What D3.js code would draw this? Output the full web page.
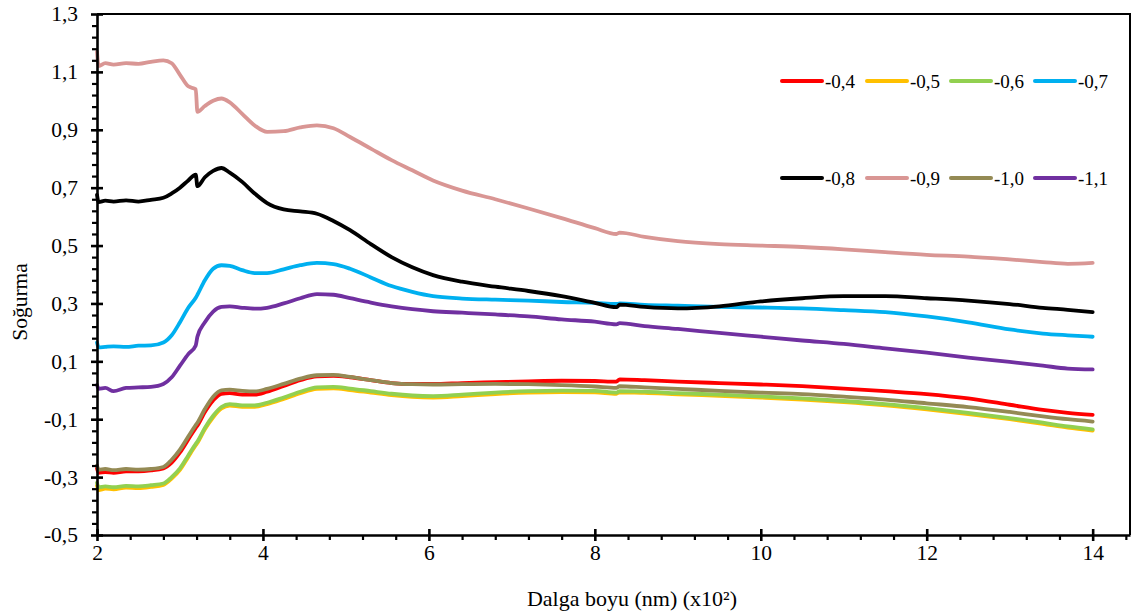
<!DOCTYPE html>
<html>
<head>
<meta charset="utf-8">
<script src="https://cdn.jsdelivr.net/npm/d3@7"></script>
<style>
  html, body { margin: 0; padding: 0; background: #fff; }
</style>
</head>
<body>
<svg id="chart" width="1136" height="616"></svg>
<script>
// Wavelength grid (nm x 10^2)
const wavelength = [2.00, 2.02, 2.10, 2.20, 2.35, 2.50, 2.65, 2.80, 2.90, 3.00, 3.10, 3.19, 3.21, 3.30, 3.40, 3.50, 3.60, 3.75, 3.90, 4.05, 4.25, 4.45, 4.65, 4.85, 5.05, 5.30, 5.55, 5.80, 6.05, 6.40, 6.80, 7.20, 7.60, 8.00, 8.26, 8.30, 8.60, 9.00, 9.50, 10.0, 10.5, 11.0, 11.5, 12.0, 12.5, 13.0, 13.4, 13.7, 14.0];

// Absorbance for each potential
const abs_m04 = [-0.270, -0.285, -0.283, -0.285, -0.280, -0.280, -0.277, -0.270, -0.250, -0.215, -0.170, -0.130, -0.122, -0.075, -0.035, -0.012, -0.010, -0.015, -0.015, -0.005, 0.015, 0.035, 0.048, 0.050, 0.045, 0.035, 0.025, 0.022, 0.022, 0.025, 0.028, 0.031, 0.033, 0.032, 0.030, 0.038, 0.035, 0.030, 0.025, 0.020, 0.014, 0.006, -0.003, -0.013, -0.028, -0.050, -0.068, -0.078, -0.085];
const abs_m05 = [-0.330, -0.345, -0.340, -0.342, -0.336, -0.338, -0.334, -0.327, -0.305, -0.275, -0.230, -0.190, -0.182, -0.135, -0.093, -0.063, -0.053, -0.057, -0.057, -0.048, -0.030, -0.010, 0.005, 0.007, 0.001, -0.008, -0.017, -0.023, -0.025, -0.020, -0.013, -0.008, -0.006, -0.007, -0.012, -0.007, -0.009, -0.014, -0.019, -0.025, -0.032, -0.041, -0.052, -0.066, -0.082, -0.100, -0.116, -0.129, -0.139];
const abs_m06 = [-0.320, -0.335, -0.332, -0.335, -0.330, -0.332, -0.328, -0.322, -0.300, -0.270, -0.225, -0.185, -0.177, -0.130, -0.088, -0.058, -0.048, -0.052, -0.052, -0.043, -0.025, -0.005, 0.010, 0.012, 0.006, -0.003, -0.012, -0.018, -0.020, -0.015, -0.008, -0.003, -0.001, -0.002, -0.008, -0.003, -0.005, -0.010, -0.015, -0.021, -0.028, -0.037, -0.048, -0.062, -0.078, -0.096, -0.112, -0.125, -0.135];
const abs_m07 = [0.165, 0.148, 0.150, 0.152, 0.150, 0.154, 0.155, 0.165, 0.190, 0.235, 0.285, 0.320, 0.330, 0.380, 0.420, 0.432, 0.430, 0.415, 0.405, 0.405, 0.418, 0.432, 0.440, 0.436, 0.420, 0.390, 0.360, 0.340, 0.325, 0.317, 0.313, 0.310, 0.305, 0.302, 0.298, 0.300, 0.295, 0.292, 0.288, 0.286, 0.283, 0.277, 0.270, 0.255, 0.235, 0.210, 0.196, 0.190, 0.185];
const abs_m08 = [0.675, 0.650, 0.655, 0.652, 0.656, 0.652, 0.658, 0.665, 0.680, 0.700, 0.725, 0.745, 0.705, 0.736, 0.758, 0.768, 0.752, 0.720, 0.680, 0.647, 0.625, 0.618, 0.610, 0.585, 0.553, 0.505, 0.460, 0.425, 0.398, 0.375, 0.358, 0.343, 0.325, 0.302, 0.287, 0.296, 0.288, 0.283, 0.290, 0.307, 0.318, 0.325, 0.325, 0.318, 0.310, 0.298, 0.285, 0.278, 0.270];
const abs_m09 = [1.170, 1.120, 1.130, 1.125, 1.130, 1.128, 1.135, 1.140, 1.130, 1.090, 1.050, 1.040, 0.962, 0.982, 1.000, 1.008, 0.995, 0.955, 0.915, 0.893, 0.895, 0.908, 0.915, 0.905, 0.875, 0.835, 0.795, 0.760, 0.725, 0.690, 0.660, 0.628, 0.595, 0.560, 0.540, 0.545, 0.530, 0.515, 0.505, 0.500, 0.495, 0.487, 0.477, 0.468, 0.462, 0.452, 0.443, 0.437, 0.440];
const abs_m10 = [-0.260, -0.275, -0.272, -0.276, -0.272, -0.274, -0.272, -0.265, -0.240, -0.205, -0.160, -0.120, -0.112, -0.065, -0.022, 0.000, 0.002, -0.002, -0.004, 0.005, 0.022, 0.040, 0.052, 0.053, 0.046, 0.035, 0.025, 0.021, 0.020, 0.021, 0.022, 0.021, 0.018, 0.013, 0.008, 0.014, 0.010, 0.005, -0.002, -0.008, -0.013, -0.022, -0.032, -0.045, -0.058, -0.075, -0.090, -0.100, -0.108];
const abs_m11 = [0.018, 0.005, 0.008, -0.003, 0.008, 0.010, 0.012, 0.022, 0.045, 0.085, 0.125, 0.155, 0.185, 0.235, 0.272, 0.288, 0.290, 0.285, 0.282, 0.285, 0.300, 0.318, 0.332, 0.330, 0.318, 0.303, 0.290, 0.280, 0.273, 0.268, 0.262, 0.255, 0.245, 0.237, 0.228, 0.232, 0.222, 0.212, 0.198, 0.185, 0.172, 0.160, 0.145, 0.130, 0.113, 0.098, 0.085, 0.075, 0.072];

const seriesLabels = ["-0,4", "-0,5", "-0,6", "-0,7", "-0,8", "-0,9", "-1,0", "-1,1"];
const seriesValues = [abs_m04, abs_m05, abs_m06, abs_m07, abs_m08, abs_m09, abs_m10, abs_m11];
const seriesColors = ["#FF0000", "#FFC000", "#92D050", "#00B0F0", "#000000", "#D99694", "#948A54", "#7030A0"];

const xTicks = [2, 4, 6, 8, 10, 12, 14];
const yTicks = [-0.5, -0.3, -0.1, 0.1, 0.3, 0.5, 0.7, 0.9, 1.1, 1.3];

const FONT = "Liberation Serif";
const svg = d3.select("#chart");
const plotLeft = 97, plotRight = 1130, plotTop = 14, plotBottom = 535;

const x = d3.scaleLinear().domain([2, 14.45]).range([plotLeft, plotRight]);
const y = d3.scaleLinear().domain([-0.5, 1.3]).range([plotBottom, plotTop]);

const fmt = v => d3.format(".1f")(v).replace(".", ",").replace("−", "-");

// Frame (top and right edges)
svg.append("path")
  .attr("d", `M${plotLeft},${plotTop}H${plotRight}V${plotBottom}`)
  .attr("fill", "none").attr("stroke", "#000").attr("stroke-width", 2);

// Series lines
const line = d3.line()
  .x((d, i) => x(wavelength[i]))
  .y(d => y(d))
  .curve(d3.curveMonotoneX);

const gLines = svg.append("g");
seriesValues.forEach((vals, k) => {
  gLines.append("path")
    .datum(vals)
    .attr("d", line)
    .attr("fill", "none")
    .attr("stroke", seriesColors[k])
    .attr("stroke-width", 3.8)
    .attr("stroke-linejoin", "round")
    .attr("stroke-linecap", "round");
});

// Minor ticks
const xMinor = d3.range(2, 14.41, 0.4).filter(v => Math.abs(v / 2 - Math.round(v / 2)) > 1e-6);
const yMinor = d3.range(-0.5, 1.301, 0.04).filter(v => Math.abs((v + 0.5) / 0.2 - Math.round((v + 0.5) / 0.2)) > 1e-6);

const gx = svg.append("g").attr("transform", `translate(0,${plotBottom})`);
gx.call(d3.axisBottom(x).tickValues(xMinor).tickSize(5).tickFormat(""));
gx.call(g => g.select(".domain").remove());
gx.selectAll("line").attr("stroke", "#000").attr("stroke-width", 2.2);

const gx2 = svg.append("g").attr("transform", `translate(0,${plotBottom})`);
gx2.call(d3.axisBottom(x).tickValues(xTicks).tickSizeInner(6).tickSizeOuter(0).tickPadding(4).tickFormat(d3.format("d")));
gx2.select(".domain").attr("stroke", "#000").attr("stroke-width", 2.6);
gx2.selectAll(".tick line").attr("y1", -6).attr("stroke", "#000").attr("stroke-width", 2.6);
gx2.selectAll(".tick text").attr("font-size", 21.5).attr("font-family", FONT).attr("fill", "#000");

const gy = svg.append("g").attr("transform", `translate(${plotLeft},0)`);
gy.call(d3.axisLeft(y).tickValues(yMinor).tickSize(5).tickFormat(""));
gy.call(g => g.select(".domain").remove());
gy.selectAll("line").attr("stroke", "#000").attr("stroke-width", 2.2);

const gy2 = svg.append("g").attr("transform", `translate(${plotLeft},0)`);
gy2.call(d3.axisLeft(y).tickValues(yTicks).tickSizeInner(6).tickSizeOuter(0).tickPadding(13).tickFormat(fmt));
gy2.select(".domain").attr("stroke", "#000").attr("stroke-width", 2.6);
gy2.selectAll(".tick line").attr("x1", 6).attr("stroke", "#000").attr("stroke-width", 2.6);
gy2.selectAll(".tick text").attr("font-size", 21.5).attr("font-family", FONT).attr("fill", "#000");

// Axis titles
svg.append("text")
  .attr("x", 632).attr("y", 606)
  .attr("text-anchor", "middle")
  .attr("font-family", FONT)
  .attr("font-size", 22)
  .text("Dalga boyu (nm) (x10²)");

svg.append("text")
  .attr("transform", "translate(27,302) rotate(-90)")
  .attr("text-anchor", "middle")
  .attr("font-family", FONT)
  .attr("font-size", 21.5)
  .text("Soğurma");

// Legend: two rows of four
const legendX = [782, 867, 951, 1035];
const legendY = [81, 178];
const gLeg = svg.append("g");
seriesLabels.forEach((lab, k) => {
  const lx = legendX[k % 4], ly = legendY[Math.floor(k / 4)];
  gLeg.append("line")
    .attr("x1", lx).attr("x2", lx + 40)
    .attr("y1", ly).attr("y2", ly)
    .attr("stroke", seriesColors[k]).attr("stroke-width", 4)
    .attr("stroke-linecap", "round");
  gLeg.append("text")
    .attr("x", lx + 43).attr("y", ly + 6.5)
    .attr("font-family", FONT)
    .attr("font-size", 19)
    .text(lab);
});
</script>
</body>
</html>
